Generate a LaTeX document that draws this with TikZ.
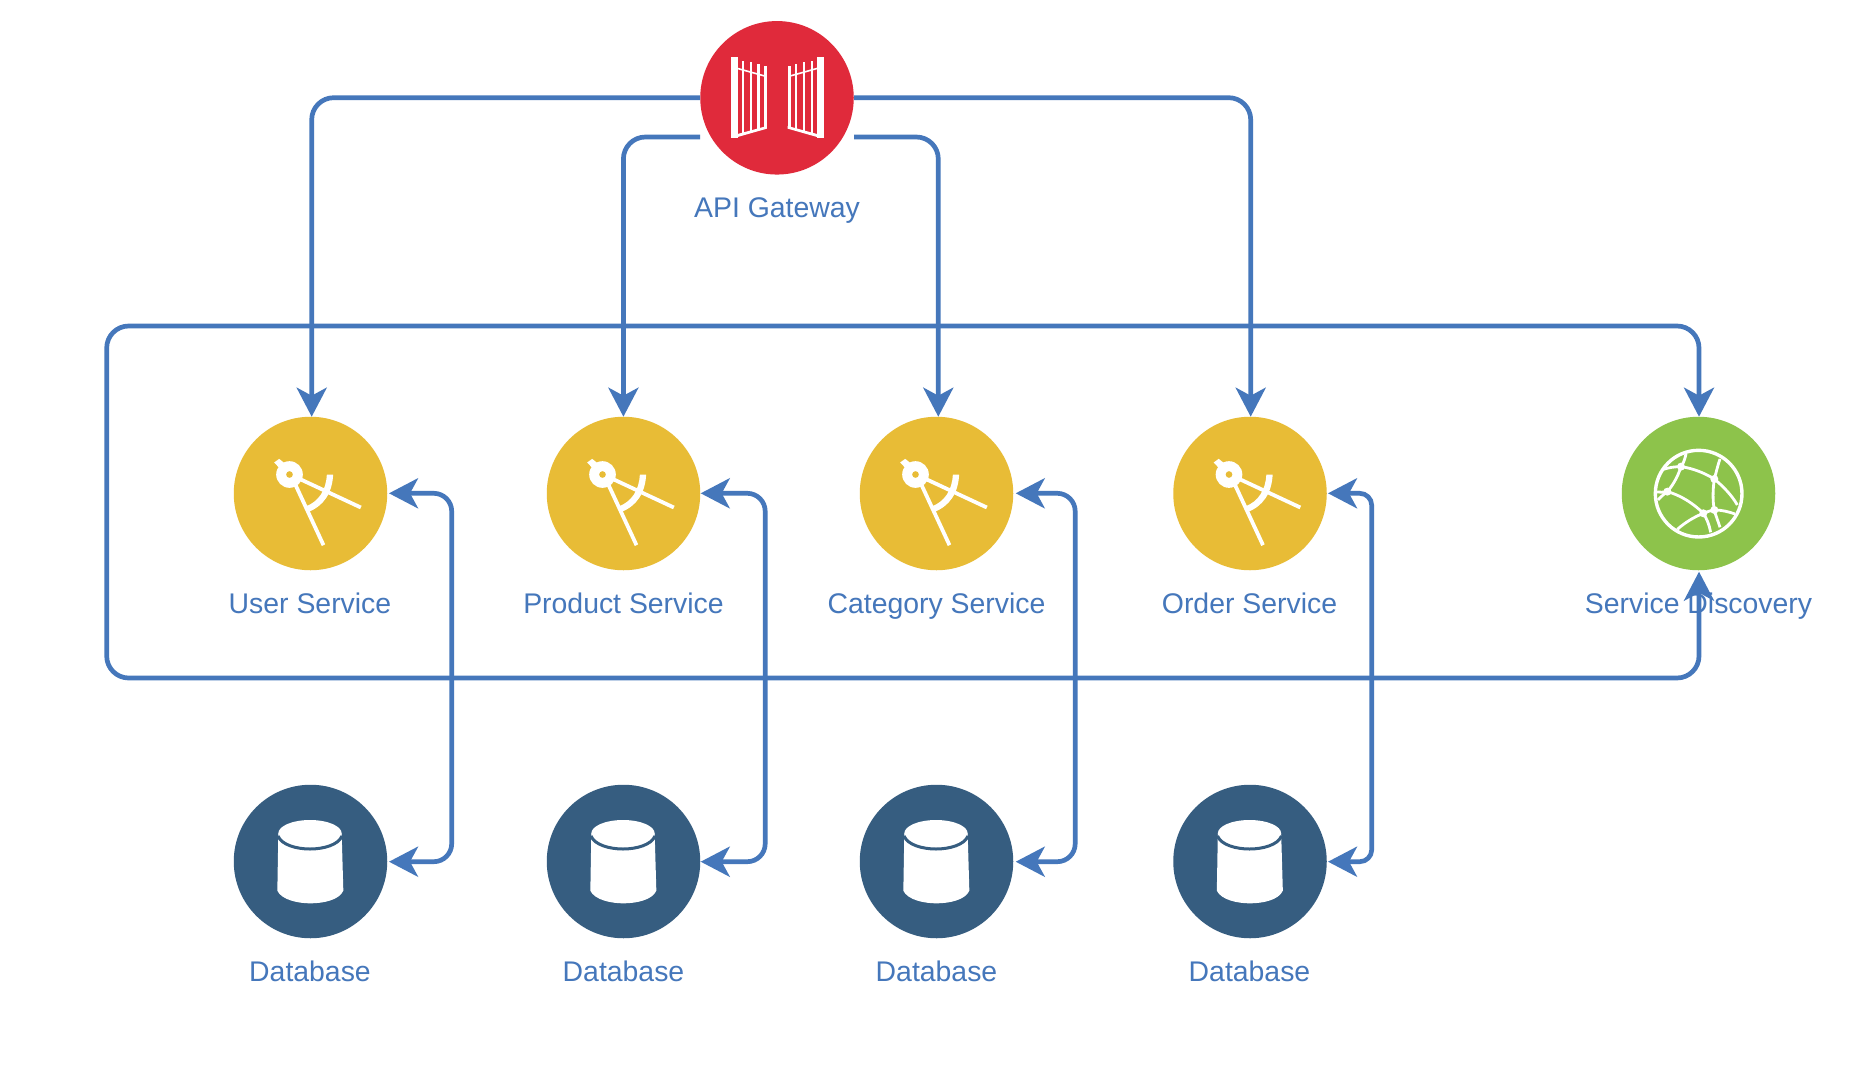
\documentclass[tikz,border=0pt]{standalone}
\usepackage{fontspec}
\setmainfont{Liberation Sans}
\usetikzlibrary{arrows.meta,calc}
\definecolor{linkblue}{HTML}{4577BB}
\definecolor{gatered}{HTML}{E02A3B}
\definecolor{svcyellow}{HTML}{E8BC36}
\definecolor{dbblue}{HTML}{365D80}
\definecolor{discgreen}{HTML}{8DC34B}
\tikzset{
  svcdisc/.style={circle,minimum size=153.5pt,inner sep=0pt,draw=none},
  caplabel/.style={anchor=base,inner sep=0pt,text=linkblue,font=\fontsize{28.4}{32}\selectfont},
  conn/.style={draw=linkblue,line width=4.7pt,rounded corners=22pt},
  linktip/.style={-{Stealth[length=29pt,width=30pt,inset=8pt]}},
  bothtip/.style={{Stealth[length=29pt,width=30pt,inset=8pt]}-{Stealth[length=29pt,width=30pt,inset=8pt]}},
  compasspic/.pic={
    \begin{scope}[x=0.3333pt,y=-0.3333pt,shift={(-271,-280)}]
      \fill[white] (162,187)--(177,176)--(197,192)--(180,206)--cycle;
      \fill[white] (208,223) circle[radius=40];
      \fill[svcyellow] (208,223) circle[radius=10];
      \draw[white,line width=3.8pt] (225,252)--(310,435);
      \draw[white,line width=3.8pt] (240,237)--(422,322);
      \fill[white] (339,223) .. controls (336,280) and (310,318) .. (263,336)
        -- (256,319) .. controls (295,305) and (318,270) .. (320,223) -- cycle;
    \end{scope}
  },
  dbpic/.pic={
    \begin{scope}[x=0.3333pt,y=-0.3333pt,shift={(-271.5,-274.5)}]
      \fill[white] (175,190) -- (172,362) .. controls (185,390) and (235,400) .. (271,400)
        .. controls (310,400) and (358,390) .. (370,362) -- (365,190) -- cycle;
      \fill[white] (270,190) ellipse[x radius=95,y radius=40];
      \draw[dbblue,line width=3pt] (174,198) .. controls (185,225) and (230,237) .. (270,237)
        .. controls (310,237) and (355,225) .. (366,198);
    \end{scope}
  }
}
\begin{document}
\begin{tikzpicture}[x=1pt,y=-1pt]
\useasboundingbox (0,0) rectangle (1858,1087);
\fill[white] (0,0) rectangle (1858,1087);

% nodes
\node[svcdisc,fill=gatered] (gw) at (777,97.8) {};
\node[caplabel] (gwl) at (777,217.5) {API Gateway};
\node[svcdisc,fill=svcyellow] (s1) at (310.5,493.5) {};
\node[svcdisc,fill=svcyellow] (s2) at (623.5,493.5) {};
\node[svcdisc,fill=svcyellow] (s3) at (936.5,493.5) {};
\node[svcdisc,fill=svcyellow] (s4) at (1250,493.5) {};
\node[svcdisc,fill=discgreen] (sd) at (1698.5,493.5) {};
\node[caplabel] (s1l) at (310,613) {User Service};
\node[caplabel] (s2l) at (623.5,613) {Product Service};
\node[caplabel] (s3l) at (936.5,613) {Category Service};
\node[caplabel] (s4l) at (1249.5,613) {Order Service};
\node[caplabel] (sdl) at (1698.5,613) {Service Discovery};
\node[svcdisc,fill=dbblue] (d1) at (310.5,861.5) {};
\node[svcdisc,fill=dbblue] (d2) at (623.5,861.5) {};
\node[svcdisc,fill=dbblue] (d3) at (936.5,861.5) {};
\node[svcdisc,fill=dbblue] (d4) at (1250,861.5) {};
\node[caplabel] (d1l) at (310,981) {Database};
\node[caplabel] (d2l) at (623.5,981) {Database};
\node[caplabel] (d3l) at (936.5,981) {Database};
\node[caplabel] (d4l) at (1249.5,981) {Database};

% icons
\pic at (s1) {compasspic};
\pic at (s2) {compasspic};
\pic at (s3) {compasspic};
\pic at (s4) {compasspic};
\pic at (d1) {dbpic};
\pic at (d2) {dbpic};
\pic at (d3) {dbpic};
\pic at (d4) {dbpic};

% gate icon
\begin{scope}[shift={(680,0)},x=0.3333pt,y=-0.3333pt]
  \foreach \m/\o in {1/0,-1/584}{
    \begin{scope}[shift={(\o,0)},xscale=\m]
      \fill[white] (153,172) rectangle (173,415);
      \fill[white] (184.5,182) rectangle (191.5,402);
      \fill[white] (208.5,187) rectangle (215.5,396);
      \fill[white] (231.5,192) rectangle (238.5,390);
      \fill[white] (252,197) rectangle (261,384);
      \fill[white] (173,402)--(261,378)--(261,386)--(173,411)--cycle;
      \fill[white] (173,203)--(252,225)--(252,230)--(173,208)--cycle;
    \end{scope}
  }
\end{scope}

% globe icon
\begin{scope}[shift={(1580,310)},x=0.3333pt,y=-0.3333pt]
  \draw[white,line width=3.4pt] (356,551) circle[radius=130];
  \begin{scope}[white,line width=2.8pt]
    \draw (318,432) .. controls (314,450) and (310,460) .. (303,470)
      .. controls (292,505) and (275,530) .. (262,545) .. controls (252,552) and (243,560) .. (234,570);
    \draw (250,478) .. controls (270,472) and (285,470) .. (303,470)
      .. controls (340,475) and (375,490) .. (403,507) .. controls (430,530) and (455,555) .. (472,585);
    \draw (420,447) .. controls (412,470) and (408,490) .. (403,507)
      .. controls (398,540) and (398,575) .. (403,600) .. controls (408,620) and (415,635) .. (420,652);
    \draw (231,546) .. controls (240,548) and (250,546) .. (262,545)
      .. controls (300,555) and (340,580) .. (370,610) .. controls (380,625) and (388,645) .. (392,667);
    \draw (292,658) .. controls (315,638) and (340,622) .. (370,610)
      .. controls (380,606) and (390,602) .. (403,600) .. controls (425,600) and (445,605) .. (465,612);
  \end{scope}
  \foreach \p in {(303,470),(403,507),(262,545),(370,610),(403,600)}
    \fill[white] \p circle[radius=12];
\end{scope}

% connector end points
\coordinate (gwl2) at (700,137);
\coordinate (gwr2) at (854,137);
\coordinate (gwl1) at (700,97.7);
\coordinate (gwr1) at (854,97.7);
\coordinate (t1) at (311.7,416.7);
\coordinate (t2) at (623.4,416.7);
\coordinate (t3) at (938.3,416.7);
\coordinate (t4) at (1250.7,416.7);
\coordinate (t5) at (1699,416.7);
\coordinate (b5) at (1699,571.7);
\coordinate (lbr) at (1699,678);
\coordinate (lbl) at (106.7,678);
\coordinate (ltl) at (106.7,326);
\coordinate (ltr) at (1699,326);

% gateway links
\draw[conn,linktip] (gwl1) -| (t1);
\draw[conn,linktip] (gwl2) -| (t2);
\draw[conn,linktip] (gwr2) -| (t3);
\draw[conn,linktip] (gwr1) -| (t4);

% discovery loop
\draw[conn,bothtip] (b5) -- (lbr) -- (lbl) -- (ltl) -- (ltr) -- (t5);

% service <-> database links
\coordinate (r1a) at (389,493.3); \coordinate (r1b) at (389,861.7); \coordinate (v1) at (451.7,600);
\coordinate (r2a) at (700.7,493.3); \coordinate (r2b) at (700.7,861.7); \coordinate (v2) at (765.2,600);
\coordinate (r3a) at (1015.7,493.3); \coordinate (r3b) at (1015.7,861.7); \coordinate (v3) at (1075.2,600);
\coordinate (r4a) at (1328,493.3); \coordinate (r4b) at (1328,861.7); \coordinate (v4) at (1371.7,600);
\draw[conn,bothtip,rounded corners=18pt] (r1a) -| (v1) |- (r1b);
\draw[conn,bothtip,rounded corners=18pt] (r2a) -| (v2) |- (r2b);
\draw[conn,bothtip,rounded corners=18pt] (r3a) -| (v3) |- (r3b);
\draw[conn,bothtip,rounded corners=12pt] (r4a) -| (v4) |- (r4b);
\end{tikzpicture}
\end{document}
